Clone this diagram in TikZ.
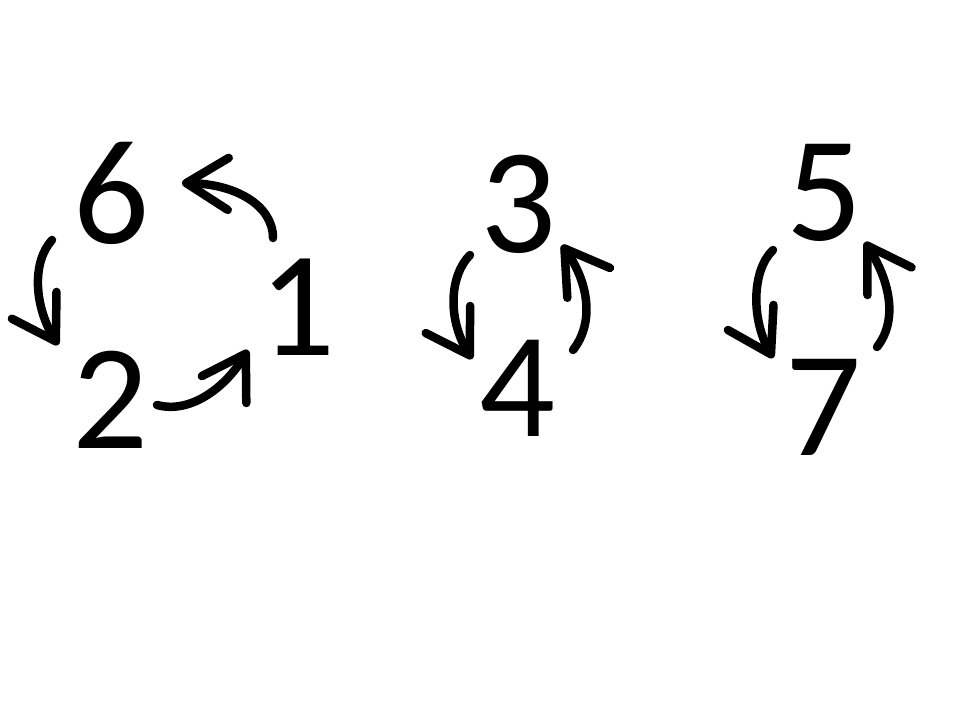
\documentclass[tikz,border=0pt]{standalone}
\usepackage{fontspec}
\setmainfont{Carlito}
\usetikzlibrary{arrows.meta}
\begin{document}
\begin{tikzpicture}[x=1pt,y=-1pt,
  digit/.style={inner sep=0pt,font=\fontsize{150}{150}\selectfont},
  arr/.style={line width=8.5pt,line cap=round,
    -{Straight Barb[length=42pt,width=52pt,line width=8.5pt,line cap=round,line join=round]}}]
\useasboundingbox (0,0) rectangle (960,720);
\node[digit] (n6) at (112,193) {6};
\node[digit] (n1) at (298,307) {1};
\node[digit] (n2) at (111,400) {2};
\node[digit] (n3) at (519,204) {3};
\node[digit] (n4) at (518,388) {4};
\node[digit] (n5) at (824,193) {5};
\node[digit] (n7) at (823,407) {7};
% start / end points of connectors
\coordinate (a62) at (52,240);  \coordinate (b62) at (58,345);
\coordinate (a16) at (273,238); \coordinate (b16) at (182,183);
\coordinate (a21) at (157,405); \coordinate (b21) at (248,350);
\coordinate (a34) at (470,255); \coordinate (b34) at (472,359);
\coordinate (a43) at (573,350); \coordinate (b43) at (562,245);
\coordinate (a57) at (773,250); \coordinate (b57) at (773,358);
\coordinate (a75) at (877,347); \coordinate (b75) at (865,242);
\draw[arr] (a62) .. controls (32,262) and (34,305) .. (b62);
\draw[arr] (a16) .. controls (273,205) and (235,184) .. (b16);
\draw[arr] (a21) .. controls (190,414) and (225,388) .. (b21);
\draw[arr] (a34) .. controls (450,275) and (447,318) .. (b34);
\draw[arr] (a43) .. controls (595,322) and (588,282) .. (b43);
\draw[arr] (a57) .. controls (752,270) and (751,318) .. (b57);
\draw[arr] (a75) .. controls (898,320) and (890,282) .. (b75);
\end{tikzpicture}
\end{document}
